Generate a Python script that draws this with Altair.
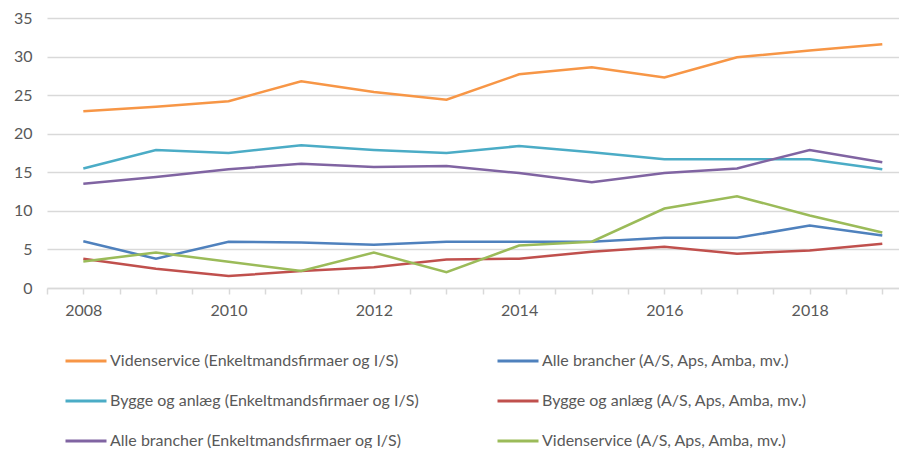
import altair as alt
import pandas as pd

years = list(range(2008, 2020))

series_names = [
    "Videnservice (Enkeltmandsfirmaer og I/S)",
    "Alle brancher (A/S, Aps, Amba, mv.)",
    "Bygge og anlæg (Enkeltmandsfirmaer og I/S)",
    "Bygge og anlæg (A/S, Aps, Amba, mv.)",
    "Alle brancher (Enkeltmandsfirmaer og I/S)",
    "Videnservice (A/S, Aps, Amba, mv.)",
]
series_colors = ["#F79646", "#4F81BD", "#4BACC6", "#C0504D", "#8064A2", "#9BBB59"]

# legend is laid out column by column: left column first, then right column
legend_order = [0, 2, 4, 1, 3, 5]
legend_names = [series_names[i] for i in legend_order]
legend_colors = [series_colors[i] for i in legend_order]

viden_enk = [22.9, 23.5, 24.2, 26.8, 25.4, 24.4, 27.7, 28.6, 27.3, 29.9, 30.8, 31.6]
alle_as = [6.05, 3.8, 6.0, 5.9, 5.6, 6.0, 6.0, 6.0, 6.5, 6.5, 8.1, 6.8]
bygge_enk = [15.5, 17.9, 17.5, 18.5, 17.9, 17.5, 18.4, 17.6, 16.7, 16.7, 16.7, 15.4]
bygge_as = [3.8, 2.5, 1.55, 2.2, 2.7, 3.7, 3.8, 4.7, 5.35, 4.45, 4.85, 5.75]
alle_enk = [13.5, 14.4, 15.4, 16.1, 15.7, 15.8, 14.9, 13.7, 14.9, 15.5, 17.9, 16.3]
viden_as = [3.45, 4.6, 3.4, 2.2, 4.6, 2.05, 5.5, 6.0, 10.3, 11.9, 9.4, 7.2]

all_values = [viden_enk, alle_as, bygge_enk, bygge_as, alle_enk, viden_as]

y_ticks = [0, 5, 10, 15, 20, 25, 30, 35]
x_ticks = [2007.5 + 0.5 * i for i in range(24)]

rows = []
for name, vals in zip(series_names, all_values):
    for yr, v in zip(years, vals):
        rows.append({"series": name, "year": yr, "value": v})
df = pd.DataFrame(rows)

FONT = "Lato"
TXT = "#595959"
GRID = "#D9D9D9"

chart = alt.Chart(df).mark_line(strokeWidth=2.5).encode(
    x=alt.X(
        "year:Q",
        scale=alt.Scale(domain=[2007.5, 2019.23], nice=False, zero=False),
        axis=alt.Axis(
            values=x_ticks,
            labelExpr="datum.value % 2 == 0 ? format(datum.value, 'd') : ''",
            grid=False,
            domainColor=GRID,
            domainWidth=1.5,
            tickColor=GRID,
            tickWidth=1.5,
            tickSize=6,
            labelFontSize=16,
            labelColor=TXT,
            labelFont=FONT,
            labelPadding=8,
            title=None,
        ),
    ),
    y=alt.Y(
        "value:Q",
        scale=alt.Scale(domain=[0, 35], nice=False),
        axis=alt.Axis(
            values=y_ticks,
            grid=True,
            gridColor=GRID,
            gridWidth=1.5,
            domain=False,
            ticks=False,
            tickSize=0,
            labelFontSize=16,
            labelColor=TXT,
            labelFont=FONT,
            labelPadding=15,
            title=None,
        ),
    ),
    color=alt.Color(
        "series:N",
        scale=alt.Scale(domain=legend_names, range=legend_colors),
        sort=legend_names,
        legend=alt.Legend(
            orient="none",
            legendX=17,
            legendY=321,
            columns=2,
            columnPadding=72,
            rowPadding=10,
            padding=0,
            symbolType="stroke",
            symbolSize=1681,
            symbolStrokeWidth=3,
            labelFontSize=16,
            labelFont=FONT,
            labelColor=TXT,
            labelOffset=2,
            labelLimit=500,
            title=None,
        ),
    ),
).properties(
    width=852,
    height=270,
    autosize=alt.AutoSizeParams(type="none"),
    padding={"left": 39, "top": 10, "right": 0, "bottom": 160},
).configure_view(stroke=None)

chart.save("out.html", embed_options={"renderer": "svg", "actions": False})
